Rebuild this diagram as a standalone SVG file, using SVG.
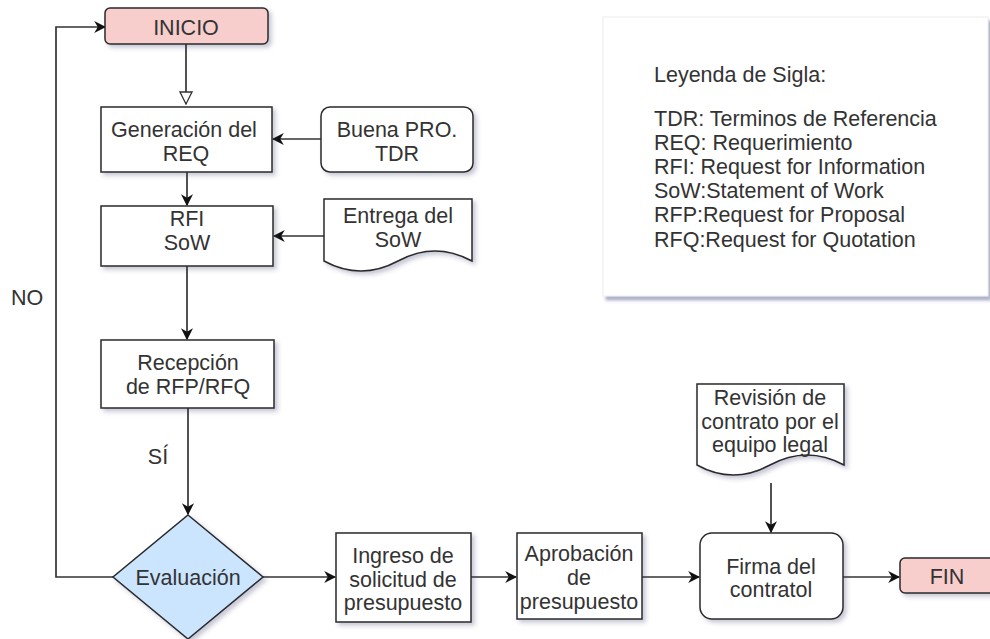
<svg xmlns="http://www.w3.org/2000/svg" width="990" height="639" viewBox="0 0 990 639">
  <style>
    .lbl { font-family: "Liberation Sans", Arial, sans-serif; font-size: 21.5px; fill: #333; text-anchor: middle; }
    .leg { font-family: "Liberation Sans", Arial, sans-serif; font-size: 21.5px; fill: #333; }
    .box { fill: #ffffff; stroke: #2a2a2a; stroke-width: 1.5; filter: url(#shadow); }
    .term { fill: #f8cecc; stroke: #2a2a2a; stroke-width: 1.5; filter: url(#shadow); }
    .dec { fill: #cce5ff; stroke: #2a2a2a; stroke-width: 1.5; filter: url(#shadow); }
    .edge { fill: none; stroke: #333; stroke-width: 1.7; }
  </style>
  <defs>
    <filter id="shadow" x="-10%" y="-10%" width="130%" height="140%">
      <feDropShadow dx="3" dy="3" stdDeviation="2" flood-color="#3c3c6e" flood-opacity="0.28"/>
    </filter>
    <filter id="paper" x="-5%" y="-5%" width="115%" height="120%">
      <feDropShadow dx="3" dy="4" stdDeviation="1.8" flood-color="#6a70a0" flood-opacity="0.55"/>
    </filter>
    <marker id="arrow" viewBox="0 0 10 10" refX="9" refY="5" markerWidth="12" markerHeight="12" markerUnits="userSpaceOnUse" orient="auto">
      <path d="M0,0 L10,5 L0,10 L3,5 Z" fill="#111"/>
    </marker>
    <marker id="open" viewBox="0 0 14 14" refX="13" refY="7" markerWidth="14" markerHeight="14" markerUnits="userSpaceOnUse" orient="auto">
      <path d="M1,1 L13,7 L1,13 Z" fill="#fff" stroke="#333" stroke-width="1.3"/>
    </marker>
  </defs>

  <rect width="990" height="639" fill="#ffffff"/>

  <!-- legend sheet -->
  <g id="legend">
    <rect x="603" y="17" width="385" height="279" fill="#ffffff" stroke="#ececec" stroke-width="1" filter="url(#paper)"/>
    <text class="leg" x="654" y="82">Leyenda de Sigla:</text>
    <text class="leg" x="654" y="126">TDR: Terminos de Referencia</text>
    <text class="leg" x="654" y="150">REQ: Requerimiento</text>
    <text class="leg" x="654" y="174">RFI: Request for Information</text>
    <text class="leg" x="654" y="198">SoW:Statement of Work</text>
    <text class="leg" x="654" y="222">RFP:Request for Proposal</text>
    <text class="leg" x="654" y="247">RFQ:Request for Quotation</text>
  </g>

  <!-- connectors -->
  <g id="connectors">
    <path class="edge" d="M186,44 V104" marker-end="url(#open)"/>
    <path class="edge" d="M187,172 V205" marker-end="url(#arrow)"/>
    <path class="edge" d="M321,139 H273" marker-end="url(#arrow)"/>
    <path class="edge" d="M324,236 H274" marker-end="url(#arrow)"/>
    <path class="edge" d="M187,266 V339" marker-end="url(#arrow)"/>
    <path class="edge" d="M188,408 V514" marker-end="url(#arrow)"/>
    <path class="edge" d="M113,577 H56 V27 H105" marker-end="url(#arrow)"/>
    <path class="edge" d="M263,577 H335" marker-end="url(#arrow)"/>
    <path class="edge" d="M471,577 H516" marker-end="url(#arrow)"/>
    <path class="edge" d="M642,577 H699" marker-end="url(#arrow)"/>
    <path class="edge" d="M771,483 V532" marker-end="url(#arrow)"/>
    <path class="edge" d="M843,577 H899" marker-end="url(#arrow)"/>
    <text class="lbl" x="158" y="464">SÍ</text>
    <text class="lbl" x="27" y="305">NO</text>
  </g>

  <g id="inicio">
    <rect class="term" x="105" y="8" width="163" height="36" rx="5"/>
    <text class="lbl" x="186" y="35">INICIO</text>
  </g>

  <g id="generacion">
    <rect class="box" x="101" y="107" width="171" height="65"/>
    <text class="lbl" x="184" y="137">Generación del</text>
    <text class="lbl" x="186" y="161">REQ</text>
  </g>

  <g id="buena-pro">
    <rect class="box" x="321" y="107" width="152" height="65" rx="9"/>
    <text class="lbl" x="397" y="137">Buena PRO.</text>
    <text class="lbl" x="397" y="161">TDR</text>
  </g>

  <g id="rfi">
    <rect class="box" x="101" y="206" width="172" height="60"/>
    <text class="lbl" x="187" y="226">RFI</text>
    <text class="lbl" x="187" y="250">SoW</text>
  </g>

  <g id="entrega">
    <path class="box" d="M324,199 H472 V261 Q435,241 398,261 Q361,281 324,261 Z"/>
    <text class="lbl" x="398" y="223">Entrega del</text>
    <text class="lbl" x="398" y="247">SoW</text>
  </g>

  <g id="recepcion">
    <rect class="box" x="101" y="340" width="173" height="68"/>
    <text class="lbl" x="188" y="370">Recepción</text>
    <text class="lbl" x="188" y="394">de RFP/RFQ</text>
  </g>

  <g id="evaluacion">
    <path class="dec" d="M188,515 L263,577 L188,639 L113,577 Z"/>
    <text class="lbl" x="188" y="585">Evaluación</text>
  </g>

  <g id="ingreso">
    <rect class="box" x="336" y="533" width="135" height="89"/>
    <text class="lbl" x="403" y="563">Ingreso de</text>
    <text class="lbl" x="403" y="587">solicitud de</text>
    <text class="lbl" x="403" y="610">presupuesto</text>
  </g>

  <g id="aprobacion">
    <rect class="box" x="517" y="533" width="125" height="86"/>
    <text class="lbl" x="579" y="561">Aprobación</text>
    <text class="lbl" x="579" y="585">de</text>
    <text class="lbl" x="579" y="609">presupuesto</text>
  </g>

  <g id="revision">
    <path class="box" d="M697,384 H844 V465 Q807,445 770,465 Q733,485 697,465 Z"/>
    <text class="lbl" x="770" y="405">Revisión de</text>
    <text class="lbl" x="770" y="429">contrato por el</text>
    <text class="lbl" x="770" y="452">equipo legal</text>
  </g>

  <g id="firma">
    <rect class="box" x="700" y="533" width="143" height="86" rx="12"/>
    <text class="lbl" x="771" y="574">Firma del</text>
    <text class="lbl" x="771" y="597">contratol</text>
  </g>

  <g id="fin">
    <rect class="term" x="900" y="558" width="100" height="35" rx="5"/>
    <text class="lbl" x="947" y="584">FIN</text>
  </g>
</svg>
